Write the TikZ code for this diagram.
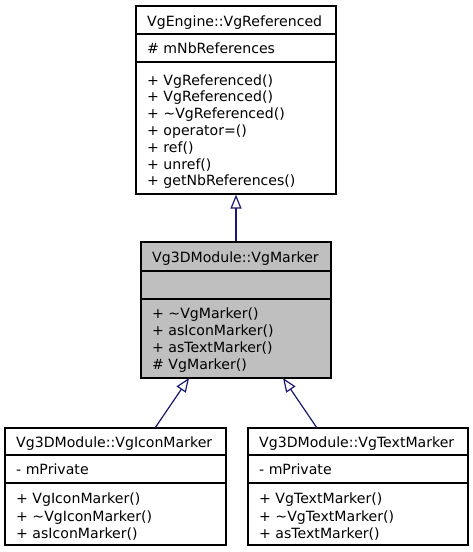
\documentclass[tikz,border=0pt]{standalone}
\usepackage{fontspec}
\setmainfont{DejaVu Sans}
\usetikzlibrary{arrows.meta}
\definecolor{edgeblue}{HTML}{191970}
\definecolor{boxgray}{HTML}{BFBFBF}
\tikzset{
  classbox/.style={draw=black, line width=1.2pt, rectangle, inner sep=0pt, fill=white},
  sepline/.style={draw=black, line width=1.2pt},
  mtxt/.style={anchor=base west, inner sep=0pt, font=\fontsize{14.1}{16}\selectfont},
  inherit/.style={draw=edgeblue, line width=1.2pt, -{Triangle[open, length=14pt, width=11pt]}},
}
\begin{document}
\begin{tikzpicture}[x=1pt, y=-1pt]
\useasboundingbox (0,0) rectangle (472,552);
% top box
\node[classbox, minimum width=200pt, minimum height=188pt] (ref) at (236,100) {};
\draw[sepline] (136,34) -- (336,34);
\draw[sepline] (136,62) -- (336,62);
\node[mtxt] (ref-t) at (147,26.5) {VgEngine::VgReferenced};
\node[mtxt] (ref-a) at (147,53.5) {\# mNbReferences};
\node[mtxt] (ref-m1) at (147,85) {+ VgReferenced()};
\node[mtxt] (ref-m2) at (147,101.8) {+ VgReferenced()};
\node[mtxt] (ref-m3) at (147,118.6) {+ \textasciitilde VgReferenced()};
\node[mtxt] (ref-m4) at (147,135.4) {+ operator=()};
\node[mtxt] (ref-m5) at (147,152.2) {+ ref()};
\node[mtxt] (ref-m6) at (147,169) {+ unref()};
\node[mtxt] (ref-m7) at (147,185.8) {+ getNbReferences()};
% middle box
\node[classbox, fill=boxgray, minimum width=190pt, minimum height=136pt] (mk) at (236,310) {};
\draw[sepline] (141,271) -- (331,271);
\draw[sepline] (141,299) -- (331,299);
\node[mtxt] (mk-t) at (152,262) {Vg3DModule::VgMarker};
\node[mtxt] (mk-m1) at (152,318) {+ \textasciitilde VgMarker()};
\node[mtxt] (mk-m2) at (152,335) {+ asIconMarker()};
\node[mtxt] (mk-m3) at (152,352) {+ asTextMarker()};
\node[mtxt] (mk-m4) at (152,369) {\# VgMarker()};
% bottom left
\node[classbox, minimum width=221pt, minimum height=117pt] (ic) at (115.5,486.5) {};
\draw[sepline] (5,455) -- (226,455);
\draw[sepline] (5,483) -- (226,483);
\node[mtxt] (ic-t) at (16,447) {Vg3DModule::VgIconMarker};
\node[mtxt] (ic-a) at (16,474.5) {- mPrivate};
\node[mtxt] (ic-m1) at (16,503.5) {+ VgIconMarker()};
\node[mtxt] (ic-m2) at (16,521) {+ \textasciitilde VgIconMarker()};
\node[mtxt] (ic-m3) at (16,538.5) {+ asIconMarker()};
% bottom right
\node[classbox, minimum width=220pt, minimum height=117pt] (tx) at (358,486.5) {};
\draw[sepline] (248,455) -- (468,455);
\draw[sepline] (248,483) -- (468,483);
\node[mtxt] (tx-t) at (259,447) {Vg3DModule::VgTextMarker};
\node[mtxt] (tx-a) at (259,474.5) {- mPrivate};
\node[mtxt] (tx-m1) at (259,503.5) {+ VgTextMarker()};
\node[mtxt] (tx-m2) at (259,521) {+ \textasciitilde VgTextMarker()};
\node[mtxt] (tx-m3) at (259,538.5) {+ asTextMarker()};
% connectors
\coordinate (mk-in1) at (189,378);
\coordinate (mk-in2) at (283,378);
\coordinate (ic-out) at (155,428);
\coordinate (tx-out) at (317,428);
\draw[inherit] (mk.north) -- (ref.south);
\draw[inherit] (ic-out) -- (mk-in1);
\draw[inherit] (tx-out) -- (mk-in2);
\end{tikzpicture}
\end{document}
